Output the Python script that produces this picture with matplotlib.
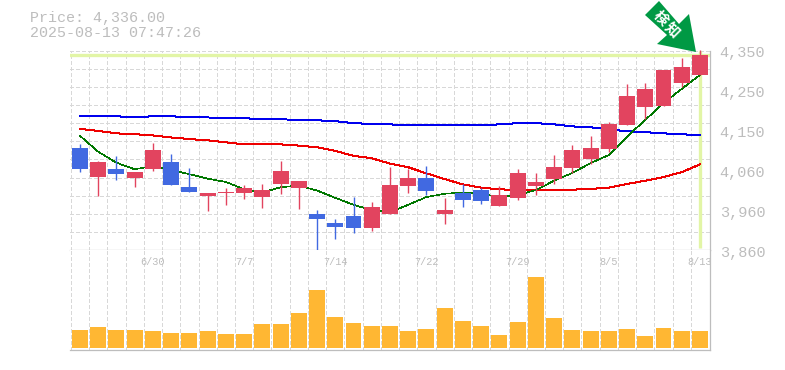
import matplotlib
matplotlib.use('Agg')
import matplotlib.pyplot as plt
from matplotlib.patches import Polygon
import numpy as np

FIG_W, FIG_H = 785, 370

# daily candles, oldest first
opens = [4108, 4037, 4057, 4035, 4057, 4074, 4013, 3991, 3998, 3998, 3988, 4020,
         4010, 3946, 3924, 3942, 3912, 3946, 4015, 4035, 3946, 3998, 4005, 3966,
         3986, 4015, 4032, 4059, 4081, 4106, 4165, 4209, 4211, 4267, 4287]
highs = [4118, 4076, 4089, 4049, 4120, 4094, 4059, 3998, 4010, 4018, 4020, 4076,
         4027, 3956, 3934, 3988, 3976, 4062, 4057, 4064, 3986, 4020, 4010, 4015,
         4057, 4047, 4091, 4116, 4138, 4172, 4265, 4267, 4299, 4329, 4348]
lows = [4049, 3991, 4030, 4013, 4052, 4018, 4000, 3954, 3969, 3983, 3961, 3996,
        3959, 3858, 3885, 3900, 3905, 3946, 3998, 3993, 3922, 3964, 3971, 3966,
        3981, 3993, 4020, 4047, 4069, 4098, 4165, 4179, 4211, 4258, 4287]
closes = [4057, 4074, 4045, 4049, 4103, 4018, 4000, 3998, 4000, 4010, 4005, 4052,
          4027, 3934, 3915, 3912, 3964, 4018, 4035, 4003, 3956, 3981, 3978, 3993,
          4047, 4025, 4062, 4103, 4108, 4167, 4236, 4253, 4299, 4307, 4336]

ma_short = [4138, 4099, 4072, 4056, 4064, 4054, 4044, 4033, 4025, 4007, 3999, 4012,
            4016, 4004, 3986, 3969, 3956, 3951, 3969, 3988, 3996, 3999, 3996, 3988,
            3993, 4005, 4028, 4047, 4071, 4091, 4136, 4177, 4218, 4253, 4287]
ma_mid = [4155, 4150, 4144, 4142, 4139, 4134, 4130, 4127, 4122, 4117, 4117, 4117,
          4114, 4110, 4101, 4089, 4083, 4070, 4061, 4046, 4032, 4019, 4011, 4007,
          4005, 4005, 4005, 4006, 4008, 4011, 4020, 4028, 4037, 4049, 4068]
ma_long = [4186, 4186, 4186, 4183, 4186, 4186, 4183, 4183, 4181, 4181, 4179, 4179,
           4176, 4176, 4174, 4169, 4167, 4166, 4164, 4164, 4164, 4164, 4164, 4166,
           4169, 4169, 4166, 4161, 4159, 4154, 4149, 4147, 4144, 4142, 4139]

volumes = [18, 21, 18, 18, 17, 15, 15, 17, 14, 14, 24, 24, 35, 58, 31, 25, 22, 22,
           17, 19, 40, 27, 22, 13, 26, 71, 30, 18, 17, 17, 19, 12, 20, 17, 17]

date_ticks = [4, 9, 14, 19, 24, 29, 34]
date_labels = ['6/30', '7/7', '7/14', '7/22', '7/29', '8/5', '8/13']

price_ticks = [4350, 4252, 4154, 4056, 3958, 3860]
price_labels = ['4,350', '4,250', '4,150', '4,060', '3,960', '3,860']

last_price = '4,336.00'
timestamp = '2025-08-13 07:47:26'

UP = '#e2445f'
DOWN = '#4169e1'
GRID = '#d8d8d8'
BORDER = '#bdbdbd'
TEXT = '#bdbdbd'
MARK = '#e2f5a6'
MONO = 'Liberation Mono'
DASH = (0, (3.5, 2.5))


def axes_at(fig, left, top, right, bottom):
    return fig.add_axes([left / FIG_W, 1 - bottom / FIG_H,
                         (right - left) / FIG_W, (bottom - top) / FIG_H])


def style_axes(ax, hlines):
    n = len(closes)
    ax.set_xlim(-0.548, n - 1 + 0.55)
    ax.set_xticks(np.arange(n) - 0.5)
    if hlines:
        ax.set_yticks(np.linspace(*ax.get_ylim(), hlines + 1))
        ax.grid(True, axis='both', color=GRID, lw=0.72, ls=DASH, antialiased=False)
    else:
        ax.set_yticks([])
        ax.grid(True, axis='x', color=GRID, lw=0.72, ls=DASH, antialiased=False)
    ax.set_axisbelow(True)
    ax.tick_params(length=0, labelbottom=False, labelleft=False)
    for side in ['left', 'top']:
        ax.spines[side].set_visible(False)
    for side in ['right', 'bottom']:
        ax.spines[side].set_color(BORDER)
        ax.spines[side].set_linewidth(0.9)


def main():
    fig = plt.figure(figsize=(FIG_W / 100, FIG_H / 100), dpi=100)
    fig.patch.set_facecolor('white')

    ax = axes_at(fig, 70, 50.7, 710, 250)
    ax.set_ylim(3858.25, 4346.5)
    style_axes(ax, 11)

    xs = np.arange(len(closes))
    last = xs[-1]

    # latest price cross hair
    ax.axhline(closes[-1], color=MARK, lw=2.4, zorder=1.5)
    ax.vlines(last, 3863, ax.get_ylim()[1], color=MARK, lw=2.4, zorder=1.5)

    ax.plot(xs, ma_long, color='#0000ee', lw=0.72, zorder=2, antialiased=False)
    ax.plot(xs, ma_mid, color='#ee0000', lw=0.72, zorder=2, antialiased=False)
    ax.plot(xs, ma_short, color='#007700', lw=0.45, zorder=2, antialiased=False)

    colors = [UP if c >= o else DOWN for o, c in zip(opens, closes)]
    ax.vlines(xs, lows, highs, colors=colors, lw=1.0, zorder=3, clip_on=False)
    body_low = np.minimum(opens, closes)
    body_high = np.maximum(opens, closes)
    ax.bar(xs, body_high - body_low, bottom=body_low, width=0.875, color=colors, zorder=4)

    for value, label in zip(price_ticks, price_labels):
        ax.annotate(label, xy=(1, value), xycoords=('axes fraction', 'data'),
                    xytext=(7, -2.6), textcoords='offset points', color=TEXT,
                    family=MONO, fontsize=11, va='center', ha='left', annotation_clip=False)

    vol = axes_at(fig, 70, 250, 710, 350)
    vol.set_ylim(-2, 98)
    style_axes(vol, 0)
    vol.bar(xs, volumes, width=0.875, color='#ffb733', zorder=3)
    for pos, label in zip(date_ticks, date_labels):
        vol.annotate(label, xy=(pos, 1), xycoords=('data', 'axes fraction'),
                     xytext=(0, -8.8), textcoords='offset points', color=TEXT,
                     family=MONO, fontsize=7.4, ha='center', va='center',
                     annotation_clip=False)

    fig.text(30 / FIG_W, 1 - 18 / FIG_H, 'Price: {}'.format(last_price), color=TEXT,
             family=MONO, fontsize=10.8, va='center')
    fig.text(30 / FIG_W, 1 - 33 / FIG_H, timestamp, color=TEXT,
             family=MONO, fontsize=10.8, va='center')

    # "detected" arrow over the last candle
    arrow = [(659, 1), (645, 15), (667, 35), (657, 44), (696, 52), (689, 14), (679, 24)]
    fig.add_artist(Polygon([(x / FIG_W, 1 - y / FIG_H) for x, y in arrow], closed=True,
                           transform=fig.transFigure, facecolor='#009944', edgecolor='none', zorder=6))
    fig.text(661 / FIG_W, 1 - 18 / FIG_H, '検', color='white', rotation=-45, fontsize=10.5,
             family=['Noto Sans CJK JP', 'DejaVu Sans'], weight='bold', ha='center', va='center', zorder=7)
    fig.text(672 / FIG_W, 1 - 30 / FIG_H, '知', color='white', rotation=-45, fontsize=10.5,
             family=['Noto Sans CJK JP', 'DejaVu Sans'], weight='bold', ha='center', va='center', zorder=7)

    fig.savefig('out.png', dpi=100)
    plt.close(fig)


if __name__ == '__main__':
    main()
